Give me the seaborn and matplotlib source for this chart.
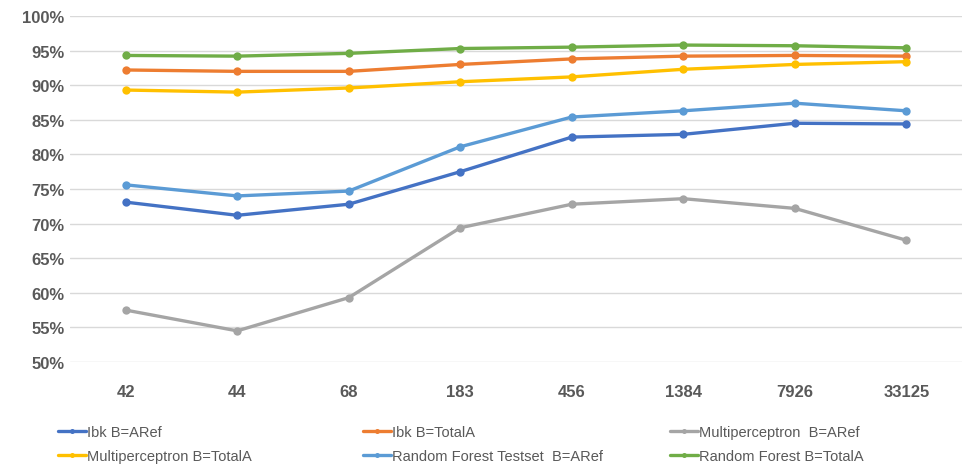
import matplotlib
matplotlib.use("Agg")
import matplotlib.pyplot as plt
import seaborn as sns
import pandas as pd
from matplotlib.ticker import PercentFormatter

# Daten (Genauigkeit in %)
sizes = ["42", "44", "68", "183", "456", "1384", "7926", "33125"]
ibk_aref = [73.1, 71.2, 72.8, 77.5, 82.5, 82.9, 84.5, 84.4]
ibk_totala = [92.2, 92.0, 92.0, 93.0, 93.8, 94.2, 94.3, 94.2]
mlp_aref = [57.5, 54.5, 59.3, 69.4, 72.8, 73.6, 72.2, 67.6]
mlp_totala = [89.3, 89.0, 89.6, 90.5, 91.2, 92.3, 93.0, 93.4]
rf_aref = [75.6, 74.0, 74.7, 81.1, 85.4, 86.3, 87.4, 86.3]
rf_totala = [94.3, 94.2, 94.6, 95.3, 95.5, 95.8, 95.7, 95.4]

series_names = [
    "Ibk B=ARef",
    "Ibk B=TotalA",
    "Multiperceptron  B=ARef",
    "Multiperceptron B=TotalA",
    "Random Forest Testset  B=ARef",
    "Random Forest B=TotalA",
]
series_values = [ibk_aref, ibk_totala, mlp_aref, mlp_totala, rf_aref, rf_totala]
colors = ["#4472C4", "#ED7D31", "#A5A5A5", "#FFC000", "#5B9BD5", "#70AD47"]

rows = []
for name, vals in zip(series_names, series_values):
    for s, v in zip(sizes, vals):
        rows.append({"size": s, "acc": v, "series": name})
df = pd.DataFrame(rows)

sns.set_style("white")
plt.rcParams["font.family"] = ["Liberation Sans", "DejaVu Sans"]

fig = plt.figure(figsize=(9.66, 4.77), dpi=100)
ax = fig.add_axes([70 / 966, 1 - 363 / 477, 892 / 966, 346 / 477])

sns.lineplot(data=df, x="size", y="acc", hue="series", hue_order=series_names,
             palette=colors, marker="o", markersize=6, markeredgewidth=0,
             linewidth=2.4, sort=False, ax=ax, legend=True)

ax.set_ylim(50, 100)
ax.set_yticks(range(50, 101, 5))
ax.yaxis.set_major_formatter(PercentFormatter(decimals=0))
ax.set_xlim(-0.5, len(sizes) - 0.5)
ax.grid(axis="y", color="#D9D9D9", linewidth=1)
ax.set_axisbelow(True)
for sp in ax.spines.values():
    sp.set_visible(False)
ax.tick_params(axis="both", length=0, labelsize=12, labelcolor="#595959")
ax.tick_params(axis="x", pad=16)
ax.tick_params(axis="y", pad=4)
for lab in ax.get_xticklabels() + ax.get_yticklabels():
    lab.set_fontweight("bold")
ax.set_xlabel("")
ax.set_ylabel("")

handles, labels = ax.get_legend_handles_labels()
ax.get_legend().remove()

# drei Legendenspalten wie im Original (zeilenweise Reihenfolge)
col_x = [52, 357, 664]
for c in range(3):
    idx = [c, c + 3]
    fig.legend([handles[i] for i in idx], [labels[i] for i in idx],
               loc="lower left", bbox_to_anchor=(col_x[c] / 966, 0.014),
               frameon=False, fontsize=10.5, labelcolor="#595959",
               handlelength=1.9, handletextpad=0.1, borderaxespad=0.2,
               labelspacing=0.7, markerscale=0.6, borderpad=0.2)

fig.savefig("out.png", dpi=100)
